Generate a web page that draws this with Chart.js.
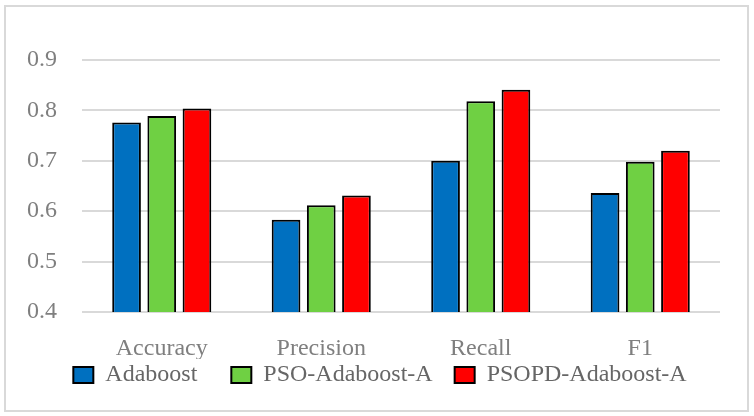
<!DOCTYPE html>
<html>
<head>
<meta charset="utf-8">
<script src="https://cdn.jsdelivr.net/npm/chart.js@4"></script>
<style>
  body { margin: 0; background: #fff; }
  #wrap { position: relative; width: 754px; height: 416px; }
  #frame { position: absolute; left: 4px; top: 5px; width: 741px; height: 403px; border: 2px solid #d9d9d9; pointer-events: none; }
</style>
</head>
<body>
<div id="wrap">
  <canvas id="grafico" width="754" height="416"></canvas>
  <div id="frame"></div>
</div>
<script>
// dados
var categorias = ['Accuracy', 'Precision', 'Recall', 'F1'];
var adaboost = [0.776, 0.583, 0.700, 0.636];
var psoAdaboost = [0.789, 0.612, 0.818, 0.698];
var psopdAdaboost = [0.804, 0.631, 0.841, 0.720];
var ticksY = [0.4, 0.5, 0.6, 0.7, 0.8, 0.9];

var fonte = 'Liberation Serif';
// espaços extras depois de cada texto da legenda
var espacosLegenda = [5, 3, 0];

var ctx = document.getElementById('grafico').getContext('2d');

var data = {
  labels: categorias,
  datasets: [{
    label: 'Adaboost',
    data: adaboost,
    backgroundColor: '#0070C0'
  }, {
    label: 'PSO-Adaboost-A',
    data: psoAdaboost,
    backgroundColor: '#6FD043'
  }, {
    label: 'PSOPD-Adaboost-A',
    data: psopdAdaboost,
    backgroundColor: '#FF0000'
  }]
};

data.datasets.forEach(function(d) {
  d.borderColor = '#000000';
  d.borderWidth = 2;
  d.borderSkipped = false;
  d.categoryPercentage = 0.662;
  d.barPercentage = 0.815;
});

// legenda centrada no quadro, não só no espaço da direita
var moverLegenda = {
  id: 'moverLegenda',
  afterLayout: function(chart) {
    chart.legend.left = 40;
  }
};

var options = {
  responsive: false,
  animation: false,
  layout: {
    padding: { left: 2, right: 34, top: 60, bottom: 19 }
  },
  scales: {
    x: {
      grid: { display: false },
      border: { display: false },
      afterFit: function(s) { s.height = 47; },
      ticks: {
        color: '#7f7f7f',
        padding: 14,
        font: { family: fonte, size: 24 }
      }
    },
    y: {
      min: 0.4,
      max: 0.9,
      afterBuildTicks: function(axis) {
        axis.ticks = ticksY.map(function(v) { return { value: v }; });
      },
      grid: { color: '#d9d9d9', lineWidth: 2, drawTicks: false },
      border: { display: false },
      ticks: {
        color: '#7f7f7f',
        padding: 25,
        font: { family: fonte, size: 24 },
        callback: function(v) { return Number(v).toFixed(1); }
      }
    }
  },
  plugins: {
    legend: {
      position: 'bottom',
      labels: {
        boxWidth: 20,
        boxHeight: 16,
        padding: 4,
        color: '#666666',
        font: { family: fonte, size: 24 },
        generateLabels: function(chart) {
          var itens = Chart.defaults.plugins.legend.labels.generateLabels(chart);
          itens.forEach(function(it, i) {
            it.text = it.text + ' '.repeat(espacosLegenda[i]);
          });
          return itens;
        }
      }
    },
    tooltip: { enabled: false }
  }
};

var meuGrafico = new Chart(ctx, {
  type: 'bar',
  data: data,
  options: options,
  plugins: [moverLegenda]
});
</script>
</body>
</html>
